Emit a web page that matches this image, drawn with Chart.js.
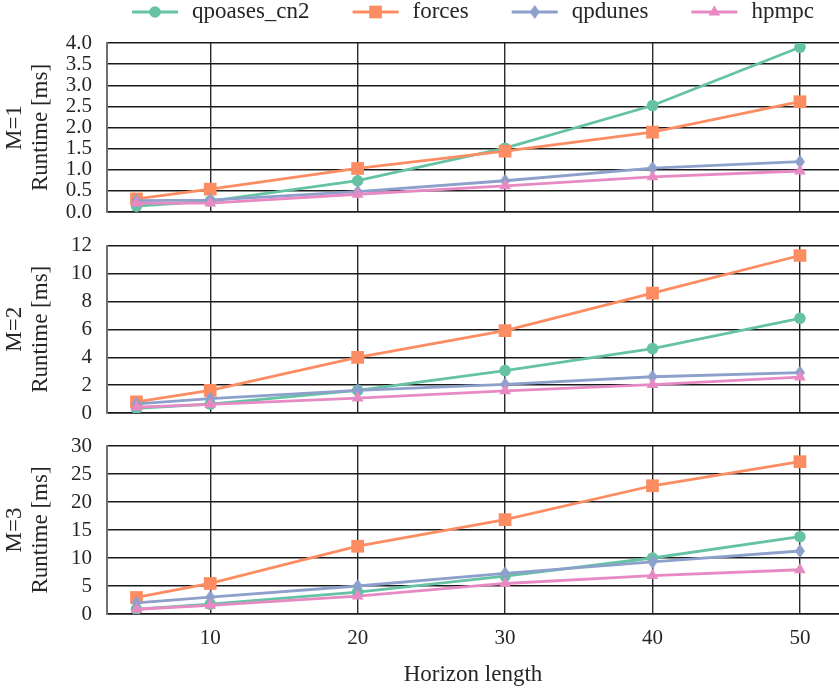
<!DOCTYPE html>
<html>
<head>
<meta charset="utf-8">
<script src="https://cdn.jsdelivr.net/npm/chart.js@4.4.1/dist/chart.umd.min.js"></script>
<style>
  html, body { margin: 0; background: #fff; }
  #wrap { position: relative; width: 839px; height: 689px; overflow: hidden; }
  canvas { position: absolute; left: 0; }
</style>
</head>
<body>
<div id="wrap">
  <canvas id="m1" width="848" height="230" style="top:0"></canvas>
  <canvas id="m2" width="848" height="200" style="top:230px"></canvas>
  <canvas id="m3" width="848" height="259" style="top:430px"></canvas>
</div>
<script>
const horizons = [5, 10, 20, 30, 40, 50];
const xTicks = [10, 20, 30, 40, 50];
const solvers = ['qpoases_cn2', 'forces', 'qpdunes', 'hpmpc'];

// runtime [ms] per horizon length, M = 1
const qpoasesM1 = [0.14, 0.26, 0.74, 1.51, 2.52, 3.90];
const forcesM1  = [0.31, 0.54, 1.03, 1.44, 1.89, 2.61];
const qpdunesM1 = [0.27, 0.28, 0.48, 0.74, 1.04, 1.19];
const hpmpcM1   = [0.21, 0.21, 0.42, 0.62, 0.83, 0.97];

// M = 2
const qpoasesM2 = [0.33, 0.64, 1.62, 3.04, 4.62, 6.79];
const forcesM2  = [0.79, 1.62, 3.98, 5.90, 8.60, 11.29];
const qpdunesM2 = [0.66, 1.03, 1.62, 2.05, 2.60, 2.90];
const hpmpcM2   = [0.42, 0.62, 1.07, 1.59, 2.04, 2.57];

// M = 3
const qpoasesM3 = [0.85, 1.75, 3.9, 6.75, 10.0, 13.8];
const forcesM3  = [2.95, 5.45, 12.1, 16.85, 22.9, 27.2];
const qpdunesM3 = [2.0, 3.0, 5.0, 7.25, 9.3, 11.25];
const hpmpcM3   = [0.85, 1.55, 3.2, 5.45, 6.85, 7.9];

const yTicksM1 = [0, 0.5, 1, 1.5, 2, 2.5, 3, 3.5, 4];
const yTicksM2 = [0, 2, 4, 6, 8, 10, 12];
const yTicksM3 = [0, 5, 10, 15, 20, 25, 30];

const FONT = "'Liberation Serif', 'DejaVu Serif', serif";
const TEXT = '#262626';
const colors = ['#66c2a5', '#fc8d62', '#8da0cb', '#e78ac3'];

// narrow diamond marker, like matplotlib's thin_diamond
function thinDiamond(color) {
  const c = document.createElement('canvas');
  c.width = 10; c.height = 14;
  const g = c.getContext('2d');
  g.fillStyle = color;
  g.beginPath();
  g.moveTo(5, 0); g.lineTo(10, 7); g.lineTo(5, 14); g.lineTo(0, 7);
  g.closePath();
  g.fill();
  return c;
}

const markers = [
  { pointStyle: 'circle', pointRadius: 5.8 },
  { pointStyle: 'rect', pointRadius: 9 },
  { pointStyle: thinDiamond(colors[2]), pointRadius: 7 },
  { pointStyle: 'triangle', pointRadius: 6.8 }
];

function makeDatasets(series) {
  return series.map((values, i) => ({
    label: solvers[i],
    data: horizons.map((h, k) => ({ x: h, y: values[k] })),
    borderColor: colors[i],
    backgroundColor: colors[i],
    borderWidth: 2.8,
    pointBorderWidth: 0,
    pointStyle: markers[i].pointStyle,
    pointRadius: markers[i].pointRadius,
    order: series.length - i
  }));
}

// legend row above the first panel: line segment, marker, label
const legendRow = {
  id: 'legendRow',
  afterDraw(chart) {
    const ctx = chart.ctx;
    const sets = chart.data.datasets;
    ctx.save();
    ctx.font = '23px ' + FONT;
    ctx.textBaseline = 'middle';
    const sym = 46, gapText = 14, gapItem = 43;
    const widths = sets.map(ds => ctx.measureText(ds.label).width);
    const total = widths.reduce((a, w) => a + sym + gapText + w, 0) + gapItem * (sets.length - 1);
    let x = (chart.chartArea.left + chart.chartArea.right) / 2 - total / 2;
    const y = 12;
    sets.forEach((ds, i) => {
      ctx.strokeStyle = ds.borderColor;
      ctx.lineWidth = ds.borderWidth;
      ctx.beginPath();
      ctx.moveTo(x, y);
      ctx.lineTo(x + sym, y);
      ctx.stroke();
      ctx.fillStyle = ds.backgroundColor;
      Chart.helpers.drawPoint(ctx, {
        pointStyle: ds.pointStyle, radius: ds.pointRadius, rotation: 0, borderWidth: 0
      }, x + sym / 2, y);
      ctx.fillStyle = TEXT;
      ctx.fillText(ds.label, x + sym + gapText, y);
      x += sym + gapText + widths[i] + gapItem;
    });
    ctx.restore();
  }
};

function panel(id, series, yTicks, yFormat, title, padding, bottom) {
  const xScale = {
    type: 'linear',
    min: 3,
    max: 52.65,
    afterBuildTicks: s => { s.ticks = xTicks.map(v => ({ value: v })); },
    grid: { color: '#2b2b2b', lineWidth: 1.4, drawTicks: false, tickLength: 0 },
    border: { color: '#1a1a1a', width: 1.4 },
    ticks: { display: false }
  };
  if (bottom) {
    xScale.afterFit = s => { s.height = 75; };
    xScale.ticks = {
      display: true, autoSkip: false, maxRotation: 0, padding: 12,
      color: TEXT, font: { family: FONT, size: 21 }
    };
    xScale.title = {
      display: true, text: 'Horizon length', color: TEXT,
      font: { family: FONT, size: 23, lineHeight: '26px' },
      padding: { top: 9, bottom: 1 }
    };
  }
  return new Chart(document.getElementById(id), {
    type: 'line',
    data: { datasets: makeDatasets(series) },
    options: {
      responsive: false,
      animation: false,
      layout: { padding: padding },
      plugins: { legend: { display: false }, tooltip: { enabled: false } },
      scales: {
        x: xScale,
        y: {
          min: yTicks[0],
          max: yTicks[yTicks.length - 1],
          afterBuildTicks: s => { s.ticks = yTicks.map(v => ({ value: v })); },
          afterFit: s => { s.width = 107; },
          grid: {
            color: '#1a1a1a', lineWidth: 1.4,
            drawTicks: true, tickLength: 12, tickColor: 'rgba(0,0,0,0)'
          },
          border: { color: '#707070', width: 2 },
          ticks: {
            autoSkip: false, padding: 3, color: TEXT,
            font: { family: FONT, size: 21 },
            callback: yFormat
          },
          title: {
            display: true, text: title, color: TEXT,
            font: { family: FONT, size: 23, lineHeight: '26px' },
            padding: { top: 2, bottom: 0 }
          }
        }
      }
    },
    plugins: id === 'm1' ? [legendRow] : []
  });
}

panel('m1', [qpoasesM1, forcesM1, qpdunesM1, hpmpcM1], yTicksM1, v => v.toFixed(1),
  ['M=1', 'Runtime [ms]'], { top: 43, bottom: 18, left: 0, right: 0 }, false);
panel('m2', [qpoasesM2, forcesM2, qpdunesM2, hpmpcM2], yTicksM2, v => v,
  ['M=2', 'Runtime [ms]'], { top: 15, bottom: 17, left: 0, right: 0 }, false);
panel('m3', [qpoasesM3, forcesM3, qpdunesM3, hpmpcM3], yTicksM3, v => v,
  ['M=3', 'Runtime [ms]'], { top: 16, bottom: 0, left: 0, right: 0 }, true);
</script>
</body>
</html>
